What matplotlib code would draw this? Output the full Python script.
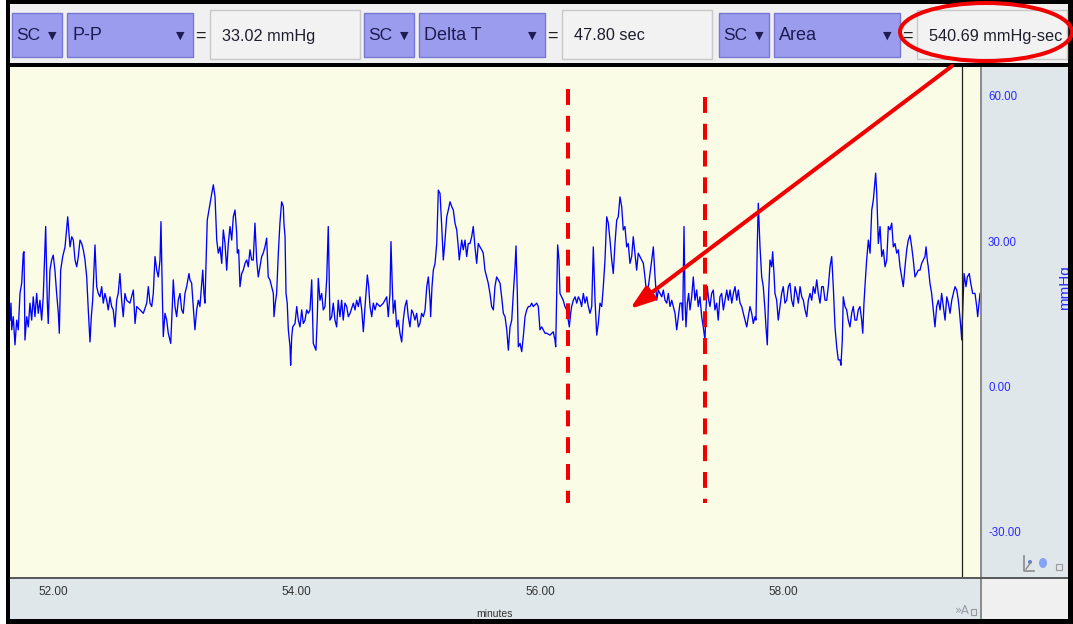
import matplotlib
matplotlib.use("Agg")
import matplotlib.pyplot as plt
from matplotlib.patches import Rectangle, Ellipse
from matplotlib.transforms import blended_transform_factory

W, H = 1073, 624

# pressure trace: time in minutes and pressure in mmHg
trace_minutes = [
    51.647, 51.655, 51.661, 51.674, 51.688, 51.702, 51.715, 51.729, 51.743, 51.756,
    51.762, 51.770, 51.784, 51.797, 51.811, 51.825, 51.838, 51.852, 51.866, 51.879,
    51.893, 51.907, 51.920, 51.940, 51.953, 51.961, 51.975, 51.989, 52.002, 52.016,
    52.030, 52.044, 52.052, 52.063, 52.080, 52.099, 52.121, 52.140, 52.154, 52.167,
    52.181, 52.195, 52.208, 52.222, 52.236, 52.249, 52.263, 52.277, 52.290, 52.304,
    52.315, 52.326, 52.345, 52.359, 52.372, 52.386, 52.400, 52.413, 52.427, 52.441,
    52.454, 52.468, 52.482, 52.495, 52.509, 52.523, 52.536, 52.550, 52.564, 52.577,
    52.591, 52.605, 52.632, 52.660, 52.674, 52.688, 52.715, 52.742, 52.770, 52.783,
    52.797, 52.811, 52.824, 52.838, 52.852, 52.865, 52.879, 52.887, 52.898, 52.906,
    52.920, 52.934, 52.947, 52.967, 52.980, 52.988, 53.002, 53.016, 53.029, 53.043,
    53.057, 53.070, 53.084, 53.098, 53.117, 53.125, 53.139, 53.152, 53.166, 53.180,
    53.194, 53.207, 53.230, 53.240, 53.248, 53.262, 53.267, 53.290, 53.304, 53.317,
    53.331, 53.345, 53.358, 53.372, 53.386, 53.399, 53.413, 53.427, 53.440, 53.454,
    53.468, 53.481, 53.495, 53.509, 53.514, 53.525, 53.536, 53.550, 53.563, 53.577,
    53.591, 53.604, 53.618, 53.632, 53.645, 53.659, 53.673, 53.686, 53.700, 53.714,
    53.727, 53.741, 53.755, 53.768, 53.782, 53.796, 53.810, 53.815, 53.826, 53.837,
    53.851, 53.864, 53.878, 53.892, 53.897, 53.906, 53.914, 53.924, 53.933, 53.947,
    53.952, 53.961, 53.969, 53.988, 54.002, 54.015, 54.029, 54.043, 54.056, 54.070,
    54.084, 54.097, 54.111, 54.125, 54.138, 54.160, 54.171, 54.179, 54.193, 54.207,
    54.220, 54.234, 54.248, 54.261, 54.269, 54.275, 54.289, 54.302, 54.316, 54.330,
    54.343, 54.357, 54.371, 54.384, 54.398, 54.412, 54.426, 54.440, 54.467, 54.481,
    54.494, 54.508, 54.522, 54.536, 54.549, 54.563, 54.582, 54.593, 54.604, 54.618,
    54.631, 54.645, 54.659, 54.686, 54.713, 54.741, 54.754, 54.768, 54.776, 54.787,
    54.795, 54.809, 54.823, 54.836, 54.850, 54.864, 54.877, 54.891, 54.905, 54.918,
    54.932, 54.946, 54.959, 54.973, 54.987, 55.001, 55.014, 55.028, 55.042, 55.056,
    55.070, 55.083, 55.097, 55.102, 55.113, 55.124, 55.138, 55.152, 55.165, 55.179,
    55.193, 55.206, 55.220, 55.234, 55.247, 55.261, 55.275, 55.288, 55.302, 55.316,
    55.329, 55.337, 55.357, 55.370, 55.384, 55.398, 55.411, 55.425, 55.439, 55.452,
    55.466, 55.480, 55.493, 55.507, 55.521, 55.534, 55.548, 55.562, 55.575, 55.589,
    55.603, 55.617, 55.630, 55.644, 55.658, 55.672, 55.685, 55.699, 55.713, 55.727,
    55.740, 55.754, 55.768, 55.781, 55.795, 55.803, 55.814, 55.822, 55.836, 55.850,
    55.863, 55.877, 55.891, 55.904, 55.918, 55.932, 55.945, 55.973, 55.986, 56.000,
    56.014, 56.027, 56.041, 56.055, 56.082, 56.109, 56.123, 56.129, 56.137, 56.145,
    56.156, 56.164, 56.178, 56.191, 56.205, 56.219, 56.232, 56.241, 56.252, 56.260,
    56.274, 56.288, 56.302, 56.315, 56.329, 56.342, 56.356, 56.370, 56.384, 56.397,
    56.411, 56.425, 56.438, 56.452, 56.466, 56.479, 56.493, 56.507, 56.520, 56.534,
    56.548, 56.561, 56.575, 56.589, 56.602, 56.616, 56.630, 56.643, 56.657, 56.671,
    56.684, 56.698, 56.712, 56.725, 56.739, 56.753, 56.766, 56.780, 56.794, 56.807,
    56.821, 56.835, 56.849, 56.862, 56.876, 56.890, 56.904, 56.918, 56.931, 56.945,
    56.959, 56.972, 56.986, 57.000, 57.013, 57.027, 57.041, 57.054, 57.068, 57.082,
    57.095, 57.109, 57.123, 57.136, 57.150, 57.164, 57.172, 57.183, 57.191, 57.199,
    57.210, 57.221, 57.232, 57.246, 57.259, 57.273, 57.287, 57.300, 57.314, 57.328,
    57.341, 57.355, 57.363, 57.374, 57.386, 57.396, 57.410, 57.423, 57.437, 57.451,
    57.464, 57.478, 57.492, 57.506, 57.520, 57.534, 57.547, 57.561, 57.575, 57.588,
    57.602, 57.616, 57.629, 57.643, 57.657, 57.670, 57.684, 57.698, 57.711, 57.725,
    57.739, 57.752, 57.766, 57.774, 57.785, 57.793, 57.807, 57.821, 57.834, 57.848,
    57.856, 57.867, 57.878, 57.889, 57.903, 57.911, 57.922, 57.930, 57.944, 57.957,
    57.971, 57.985, 57.998, 58.012, 58.026, 58.040, 58.053, 58.067, 58.081, 58.095,
    58.108, 58.122, 58.136, 58.150, 58.163, 58.177, 58.191, 58.204, 58.218, 58.232,
    58.245, 58.259, 58.273, 58.286, 58.300, 58.314, 58.327, 58.341, 58.355, 58.368,
    58.382, 58.396, 58.409, 58.423, 58.437, 58.450, 58.464, 58.472, 58.483, 58.491,
    58.505, 58.519, 58.532, 58.546, 58.560, 58.573, 58.587, 58.601, 58.614, 58.628,
    58.642, 58.651, 58.661, 58.669, 58.683, 58.697, 58.711, 58.725, 58.738, 58.752,
    58.757, 58.766, 58.779, 58.793, 58.807, 58.820, 58.834, 58.848, 58.861, 58.875,
    58.889, 58.902, 58.916, 58.930, 58.943, 58.957, 58.971, 58.984, 58.998, 59.012,
    59.025, 59.039, 59.053, 59.066, 59.080, 59.094, 59.107, 59.121, 59.135, 59.148,
    59.162, 59.171, 59.181, 59.189, 59.203, 59.217, 59.230, 59.244, 59.258, 59.272,
    59.286, 59.299, 59.313, 59.327, 59.341, 59.354, 59.368, 59.382, 59.395, 59.409,
    59.423, 59.436, 59.444, 59.456, 59.464, 59.472, 59.483, 59.499, 59.510, 59.526,
    59.538, 59.554, 59.573, 59.587, 59.595, 59.608, 59.614,
]
trace_mmhg = [
    14.0, 17.5, 12.0, 14.7, 8.9, 14.0, 12.0, 19.5, 21.6, 27.8,
    28.1, 9.9, 14.7, 12.6, 17.5, 14.0, 18.8, 14.7, 19.5, 15.4,
    18.1, 14.0, 18.8, 33.3, 18.1, 13.3, 24.3, 26.4, 27.4, 24.3,
    19.5, 15.4, 11.3, 24.3, 27.1, 29.1, 35.3, 29.1, 31.2, 30.5,
    26.4, 25.0, 27.1, 30.5, 29.8, 28.5, 26.4, 22.9, 16.1, 9.5,
    14.7, 18.1, 29.5, 20.9, 19.5, 18.8, 20.9, 17.5, 19.5, 18.1,
    16.1, 18.8, 16.8, 16.1, 12.6, 18.1, 19.5, 23.6, 18.1, 14.7,
    19.5, 18.1, 17.5, 20.2, 13.3, 16.8, 16.1, 15.4, 17.5, 20.9,
    17.5, 16.8, 19.5, 27.1, 24.3, 22.9, 26.4, 34.3, 19.5, 10.6,
    15.4, 14.0, 11.3, 9.2, 16.8, 22.3, 16.8, 14.7, 18.1, 19.5,
    16.1, 15.4, 19.5, 20.9, 23.6, 22.3, 21.6, 16.8, 12.0, 16.1,
    18.1, 16.8, 24.3, 19.5, 17.5, 29.8, 34.6, 38.1, 40.1, 41.9,
    39.4, 30.5, 27.8, 29.1, 25.7, 32.6, 29.8, 24.3, 29.8, 33.3,
    30.5, 35.3, 36.7, 31.9, 27.8, 28.5, 20.9, 23.6, 24.3, 25.7,
    26.4, 25.0, 28.5, 26.4, 26.4, 34.0, 26.4, 22.9, 25.0, 27.1,
    27.8, 29.1, 30.9, 22.9, 22.3, 20.9, 19.5, 14.7, 17.5, 19.5,
    27.8, 34.0, 38.4, 37.4, 34.0, 31.2, 19.5, 17.5, 12.0, 8.5,
    4.7, 10.6, 12.6, 13.3, 16.8, 14.0, 12.6, 16.1, 13.3, 14.0,
    16.1, 15.4, 16.1, 22.3, 9.2, 7.8, 14.7, 22.6, 18.1, 19.5,
    16.1, 16.8, 22.3, 33.3, 22.9, 14.0, 14.7, 17.5, 14.0, 12.6,
    18.1, 14.7, 18.1, 14.0, 17.5, 16.8, 14.7, 15.4, 17.5, 16.1,
    18.1, 16.8, 18.8, 16.1, 11.6, 16.8, 23.3, 20.9, 16.8, 14.7,
    17.5, 16.1, 17.5, 16.8, 17.5, 18.8, 14.7, 19.5, 30.2, 20.9,
    15.4, 18.1, 12.6, 14.0, 11.3, 9.5, 14.0, 16.8, 18.1, 14.7,
    12.6, 16.1, 15.4, 14.0, 15.4, 12.6, 13.3, 15.4, 14.7, 16.1,
    20.9, 22.9, 18.1, 14.7, 20.9, 24.3, 25.7, 29.8, 40.8, 40.1,
    33.3, 26.4, 30.5, 35.3, 36.7, 38.4, 37.4, 36.7, 34.0, 32.6,
    29.1, 26.4, 30.5, 28.5, 30.5, 27.1, 29.8, 29.8, 31.2, 33.3,
    29.1, 25.7, 29.8, 29.1, 28.5, 27.8, 24.3, 22.9, 21.6, 19.5,
    16.8, 16.1, 20.9, 22.9, 22.3, 21.6, 18.8, 15.4, 14.7, 12.0,
    7.8, 12.6, 14.0, 19.5, 25.0, 29.3, 19.5, 8.5, 9.2, 7.5,
    10.6, 14.7, 16.1, 16.8, 16.8, 17.5, 16.8, 17.5, 16.8, 12.0,
    12.6, 12.0, 11.3, 11.3, 10.9, 11.6, 9.9, 8.5, 19.5, 29.5,
    26.4, 19.5, 18.8, 18.1, 16.8, 16.1, 14.0, 12.6, 15.4, 16.8,
    18.1, 18.8, 17.5, 18.8, 18.1, 16.8, 19.5, 17.5, 18.8, 16.8,
    15.4, 16.8, 29.1, 18.1, 10.9, 13.3, 17.5, 16.8, 20.9, 26.4,
    35.3, 34.0, 30.5, 26.4, 23.6, 29.8, 34.6, 35.3, 39.4, 37.4,
    32.6, 33.3, 29.1, 29.8, 25.7, 27.1, 31.2, 27.8, 24.3, 27.8,
    27.1, 26.4, 25.7, 22.9, 19.5, 20.9, 23.6, 26.4, 29.1, 22.9,
    18.1, 20.2, 19.5, 18.8, 20.2, 18.1, 17.5, 19.5, 16.8, 18.1,
    16.8, 15.4, 12.0, 14.7, 17.5, 17.5, 14.0, 33.3, 18.1, 12.6,
    17.5, 19.5, 16.1, 18.8, 22.9, 18.1, 20.2, 16.8, 18.8, 14.7,
    12.6, 9.9, 16.1, 20.9, 18.1, 16.8, 19.5, 20.2, 16.1, 17.5,
    14.0, 18.8, 19.5, 16.1, 18.1, 20.2, 18.1, 20.2, 17.5, 19.5,
    20.9, 18.1, 20.2, 17.5, 16.8, 15.4, 14.0, 12.6, 14.7, 16.8,
    15.4, 13.3, 14.7, 14.0, 29.8, 38.1, 29.1, 22.9, 20.9, 16.1,
    12.6, 8.9, 19.5, 26.4, 25.0, 28.1, 23.6, 19.5, 18.1, 14.0,
    16.8, 19.5, 20.9, 17.5, 18.1, 20.9, 21.6, 18.1, 16.8, 20.9,
    19.5, 17.5, 20.9, 18.8, 18.1, 16.1, 14.7, 18.1, 19.5, 18.1,
    20.9, 19.5, 22.3, 19.5, 17.5, 20.9, 20.9, 18.1, 18.1, 20.9,
    25.0, 27.1, 20.9, 12.6, 8.5, 5.8, 5.8, 4.7, 9.9, 18.8,
    16.8, 16.1, 14.0, 12.6, 15.4, 16.8, 14.0, 14.0, 16.1, 16.8,
    14.0, 11.3, 17.5, 20.9, 26.4, 30.5, 27.8, 36.7, 38.8, 42.9,
    44.3, 40.1, 29.8, 33.3, 27.1, 28.5, 25.0, 26.4, 33.3, 32.6,
    34.0, 29.1, 29.8, 27.8, 28.5, 25.0, 22.9, 20.9, 25.0, 28.5,
    30.5, 31.5, 29.1, 26.4, 22.9, 23.6, 24.3, 24.3, 25.7, 26.4,
    27.1, 29.1, 26.4, 25.0, 21.6, 19.5, 16.1, 12.6, 16.8, 18.1,
    16.1, 19.5, 16.8, 14.0, 18.8, 17.5, 15.4, 18.1, 19.5, 20.9,
    20.2, 18.1, 16.1, 12.6, 9.9, 16.1, 23.6, 20.9, 22.9, 23.6,
    21.6, 19.5, 19.5, 16.8, 14.7, 18.1, 19.5,
]

x_ticks = [52.0, 54.0, 56.0, 58.0]
y_ticks = [60.0, 30.0, 0.0, -30.0]
x_limits = (51.647, 59.614)
y_limits = (-38.97, 66.19)

channels = ["SC", "SC", "SC"]
measure_names = ["P-P", "Delta T", "Area"]
measure_results = ["33.02 mmHg", "47.80 sec", "540.69 mmHg-sec"]

# selection markers, cursor and pointer (minutes / mmHg)
marker_minutes = [56.23, 57.355]
marker_tops = [61.65, 60.0]
marker_bottom = -23.71
cursor_minute = 59.469
pointer_target = (56.739, 16.3)

SANS = ["Liberation Sans", "DejaVu Sans"]
SYMBOL = ["DejaVu Sans"]
BUTTON = "#9c9cef"
BUTTON_EDGE = "#7676d4"
INK = "#1c1c50"
PANEL = "#dfe7ea"
RED = "#f00000"

fig = plt.figure(figsize=(W / 100, H / 100), dpi=100, facecolor="white")


def pixel_layer(z):
    layer = fig.add_axes([0, 0, 1, 1], zorder=z)
    layer.set_xlim(0, W)
    layer.set_ylim(H, 0)
    layer.axis("off")
    return layer


def pixel_axes(x0, y0, x1, y1, **kw):
    a = fig.add_axes([x0 / W, 1 - y1 / H, (x1 - x0) / W, (y1 - y0) / H], **kw)
    a.tick_params(left=False, bottom=False, labelleft=False, labelbottom=False)
    for s in a.spines.values():
        s.set_visible(False)
    return a


# window chrome: frame, toolbar, separators
ui = pixel_layer(0)
ui.add_patch(Rectangle((6, 0), W - 6, H, fc="black", lw=0))
ui.add_patch(Rectangle((10, 4), 1058, 59, fc="#f0f0f0", lw=0))
ui.add_patch(Rectangle((980, 67), 2, 552, fc="#8c8c8c", lw=0))
ui.add_patch(Rectangle((10, 577), 1058, 2, fc="#5a5a5a", lw=0))
ui.add_patch(Rectangle((982, 579), 86, 40, fc="#f0f0f0", lw=0))

slot_starts = [12, 364, 719]
for x0, ch, name, result in zip(slot_starts, channels, measure_names, measure_results):
    ui.add_patch(Rectangle((x0, 13), 50, 44, fc=BUTTON, ec=BUTTON_EDGE, lw=1))
    ui.text(x0 + 4, 36, ch, ha="left", va="center", fontsize=12.5, color=INK, family=SANS)
    ui.text(x0 + 40, 36, "\u25bc", ha="center", va="center", fontsize=8, color=INK, family=SYMBOL)
    ui.add_patch(Rectangle((x0 + 55, 13), 126, 44, fc=BUTTON, ec=BUTTON_EDGE, lw=1))
    ui.text(x0 + 60, 36, name, ha="left", va="center", fontsize=13, color=INK, family=SANS)
    ui.text(x0 + 168, 36, "\u25bc", ha="center", va="center", fontsize=8, color=INK, family=SYMBOL)
    ui.text(x0 + 188, 36, "=", ha="center", va="center", fontsize=13, color="#202020", family=SANS)
    box_w = min(150, 1068 - (x0 + 198))
    ui.add_patch(Rectangle((x0 + 198, 10), box_w, 49, fc="#f2f2f2", ec="#c8c8c8", lw=1))
    ui.text(x0 + 210, 36, result, ha="left", va="center", fontsize=11.7, color="#1e1e2e", family=SANS)

# trace area
ax = pixel_axes(10, 67, 980, 577, zorder=1, facecolor="#fafce6")
ax.plot(trace_minutes, trace_mmhg, color="#0000ff", lw=0.95)
for m, top in zip(marker_minutes, marker_tops):
    ax.plot([m, m], [top, marker_bottom], color=RED, lw=2.9,
            linestyle=(0, (3.95, 2.7)), dash_capstyle="butt")
ax.axvline(cursor_minute, color="#202020", lw=0.9)
ax.set_xlim(*x_limits)
ax.set_ylim(*y_limits)

# vertical scale panel
yax = pixel_axes(982, 67, 1068, 577, zorder=1, facecolor=PANEL, sharey=ax)
ytr = blended_transform_factory(yax.transAxes, yax.transData)
for v in y_ticks:
    yax.text(0.07, v, f"{v:.2f}", transform=ytr, ha="left", va="center",
             fontsize=8.3, color="#2a2aff", family=SANS)
yax.text(0.965, 20.8, "mmHg", transform=ytr, ha="center", va="center", rotation=90,
         fontsize=11, color="#2a2aff", family=SANS, clip_on=True)

# horizontal scale panel
xax = pixel_axes(10, 579, 980, 619, zorder=1, facecolor=PANEL, sharex=ax)
xtr = blended_transform_factory(xax.transData, xax.transAxes)
for t in x_ticks:
    xax.text(t, 0.68, f"{t:.2f}", transform=xtr, ha="center", va="center",
             fontsize=8.5, color="#333333", family=SANS)
xax.text(0.5, 0.12, "minutes", transform=xax.transAxes, ha="center", va="center",
         fontsize=7.5, color="#333333", family=SANS)

# small panel icons and highlight annotations
top = pixel_layer(5)
top.plot([1024, 1024, 1034], [556, 571, 571], color="#8a8a8a", lw=1.2)
top.plot([1026, 1031], [569, 562], color="#8a8a8a", lw=1)
top.add_patch(Ellipse((1030, 562), 4, 4, fc="#5a7ae6", lw=0))
top.add_patch(Ellipse((1043, 563), 8, 10, fc="#86a2f2", lw=0))
top.add_patch(Rectangle((1056, 564), 6, 6, fc="none", ec="#9a9a9a", lw=0.8))
top.text(962, 610, "\u00bbA", ha="center", va="center", fontsize=8.5,
         color="#9a9aa8", family=SYMBOL)
top.add_patch(Rectangle((971, 609), 5, 6, fc="none", ec="#9a9a9a", lw=0.8))

top.add_patch(Ellipse((986, 32), 172, 58, fill=False, ec=RED, lw=2.9))
top.annotate("", xy=pointer_target, xycoords=ax.transData, xytext=(952, 66),
             textcoords="data",
             arrowprops=dict(arrowstyle="-|>,head_length=1.45,head_width=0.5",
                             color=RED, lw=2.9, shrinkA=0, shrinkB=0,
                             mutation_scale=10))

fig.savefig("out.png", dpi=100, facecolor="white")
